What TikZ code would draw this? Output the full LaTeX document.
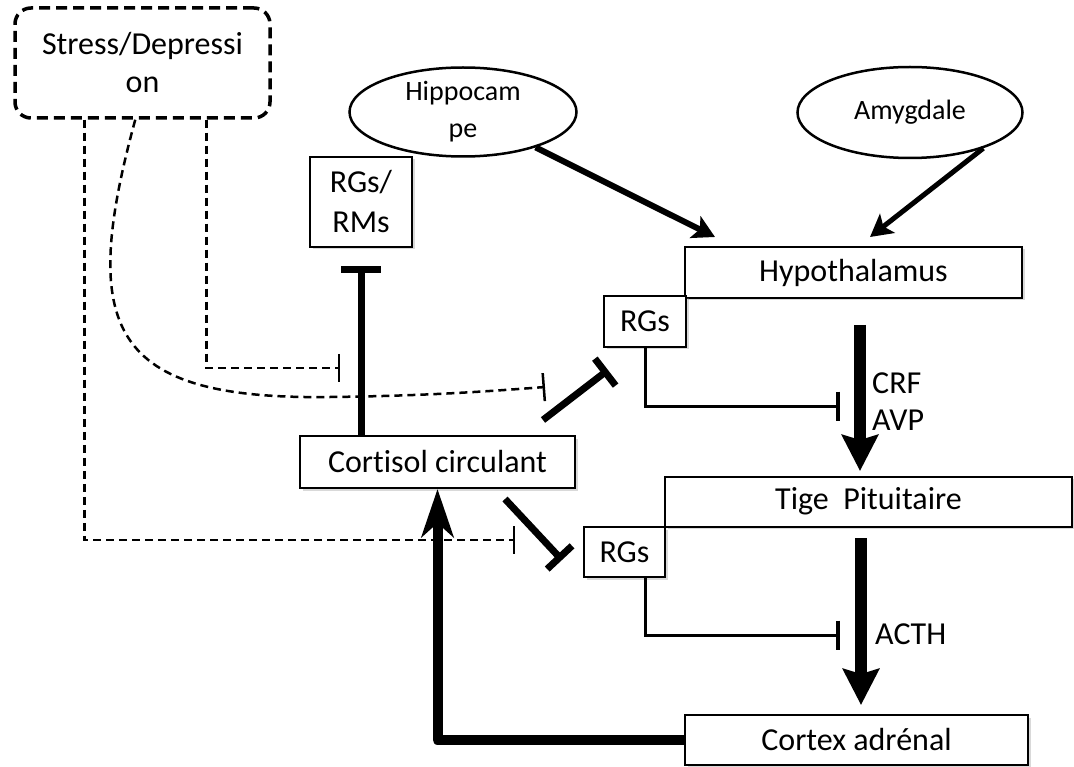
\documentclass[tikz,border=0pt]{standalone}
\usepackage{fontspec}
\setmainfont{Carlito}[Ligatures=NoCommon]
\usetikzlibrary{arrows.meta,shapes.geometric,shadows,calc}
\begin{document}
\begin{tikzpicture}[x=1pt,y=-1pt,
  big/.style={font=\fontsize{32pt}{38pt}\selectfont},
  small/.style={font=\fontsize{28pt}{37pt}\selectfont},
  box/.style={draw, line width=2pt, fill=white, inner sep=0pt, big, align=center,
    drop shadow={shadow xshift=2.5pt, shadow yshift=-2.5pt, opacity=0.3}},
  oval/.style={draw, ellipse, line width=2.5pt, fill=white, inner sep=0pt, small, align=center},
  stressbox/.style={draw, line width=3.5pt, dash pattern=on 11pt off 6pt, rounded corners=16pt,
    fill=white, inner sep=0pt, big, align=center},
  lbl/.style={big, inner sep=0pt, anchor=base west},
  thicktee/.style={line width=7pt, -{Bar[width=40pt]}},
  diagtee/.style={line width=7pt, -{Bar[width=34pt]}},
  thintee/.style={line width=3pt, -{Bar[width=29pt,line width=4pt]}},
  dashtee/.style={line width=2.5pt, dash pattern=on 8pt off 5pt, -{Bar[width=28pt,line width=2.5pt]}},
  bigarrow/.style={line width=12pt, -{Stealth[length=36pt,width=36pt,inset=5pt]}},
  feedback/.style={line width=10pt, line join=round, -{Stealth[length=48pt,width=32pt,inset=14pt]}},
  medarrow/.style={line width=6pt, -{Stealth[length=22pt,width=24pt,inset=5pt]}},
]
\useasboundingbox (0,0) rectangle (1074,767);

% nodes
\node[stressbox, minimum width=255pt, minimum height=110pt] (stress) at (142.5,63) {Stress/Depressi\\on};
\node[oval, minimum width=227pt, minimum height=89pt] (hip) at (463,112) {Hippocam\\pe};
\node[oval, minimum width=225pt, minimum height=91pt] (amy) at (910,112.5) {Amygdale};
\node[box, minimum width=102pt, minimum height=90pt, font=\fontsize{32pt}{40pt}\selectfont] (rgrm) at (361,202) {RGs/\\RMs};
\node[box, minimum width=337pt, minimum height=51pt] (hyp) at (853.5,272.5) {Hypothalamus};
\node[box, minimum width=82pt, minimum height=51pt] (rg1) at (645,321.5) {RGs};
\node[box, minimum width=275pt, minimum height=52pt] (cort) at (437.5,462) {Cortisol circulant};
\node[box, minimum width=407pt, minimum height=50pt] (tige) at (868.5,501.5) {Tige~ Pituitaire};
\node[box, minimum width=81pt, minimum height=50pt] (rg2) at (624.5,552) {RGs};
\node[box, minimum width=343pt, minimum height=50pt] (cortex) at (856.5,740) {Cortex adrénal};

\node[lbl] (crf) at (872,393) {CRF};
\node[lbl] (avp) at (872,430) {AVP};
\node[lbl] (acth) at (875,644) {ACTH};

% coordinates for free ends
\coordinate (hipTip) at (715,237);
\coordinate (amyTip) at (870,237);
\coordinate (d1) at (340,368);
\coordinate (d2) at (515,540);
\coordinate (d3) at (545,387);
\coordinate (t1) at (840,406);
\coordinate (t2) at (840,635);
\coordinate (c1s) at (543,420);
\coordinate (c1e) at (608,370);
\coordinate (c2s) at (505,499);
\coordinate (c2e) at (562,560);

% inputs to hypothalamus
\draw[medarrow] (hip.-26) -- (hipTip);
\draw[medarrow, line width=5pt] (amy.-26) -- (amyTip);

% cascade arrows
\draw[bigarrow] ([xshift=6.5pt,yshift=-26pt]hyp.south) -- ([xshift=-8.5pt,yshift=4.5pt]tige.north);
\draw[bigarrow] ([xshift=-7.5pt,yshift=-10.5pt]tige.south) -- ([xshift=4.5pt,yshift=9pt]cortex.north);

% feedback
\draw[feedback] (cortex.west) -| (cort.south);

% cortisol inhibitions
\draw[thicktee] (cort.north -| rgrm.south) -- ([yshift=-18pt]rgrm.south);
\draw[diagtee] (c1s) -- (c1e);
\draw[diagtee] (c2s) -- (c2e);

% RGs inhibitions
\draw[thintee] (rg1.south) |- (t1);
\draw[thintee] ([xshift=20.5pt]rg2.south) |- (t2);

% stress dashed
\draw[dashtee] ($(stress.south west)+(193,0)$) |- (d1);
\draw[dashtee] ($(stress.south west)+(71,0)$) |- (d2);
\draw[dashtee] ($(stress.south west)+(122,0)$) .. controls (78,330) and (110,400) .. (330,397)
   .. controls (420,396) and (480,392) .. (d3);
\end{tikzpicture}
\end{document}
